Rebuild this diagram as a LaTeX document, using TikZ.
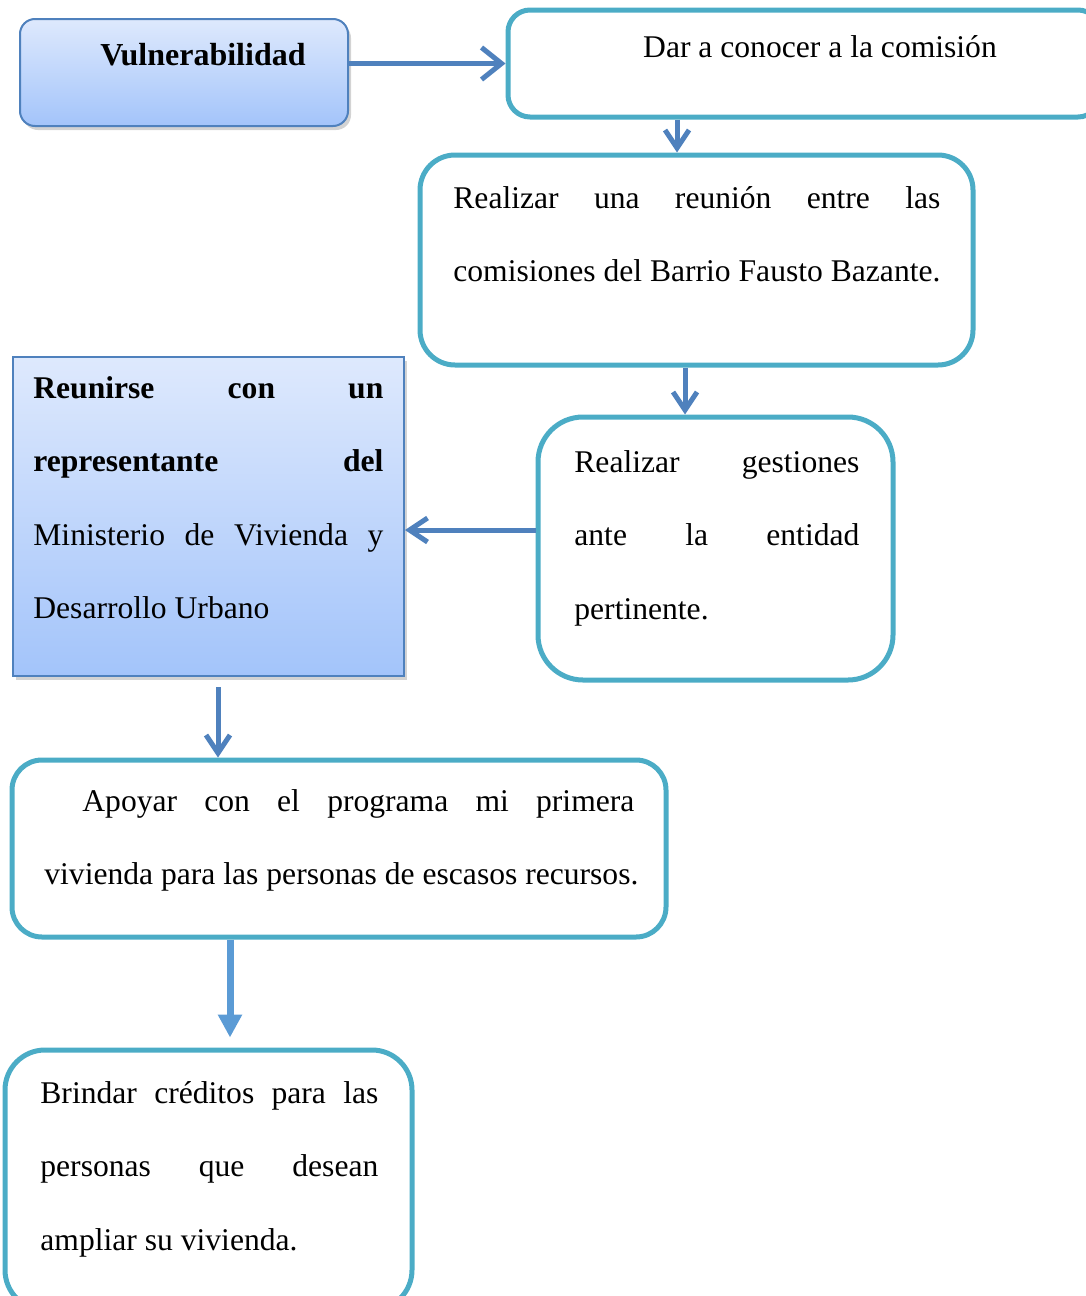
\documentclass[tikz,border=0pt]{standalone}
\usepackage{fontspec}
\setmainfont{Liberation Serif}
\usetikzlibrary{arrows.meta,shadows}
\definecolor{borde}{RGB}{75,172,198}
\definecolor{flecha}{RGB}{79,129,189}
\definecolor{flechaB}{RGB}{91,155,213}
\definecolor{azulA}{RGB}{222,233,253}
\definecolor{azulB}{RGB}{163,196,250}
\definecolor{marco}{RGB}{79,129,189}
\begin{document}
\begin{tikzpicture}[x=0.5pt, y=-0.5pt,
  caja/.style={draw=borde, line width=2.5pt, rounded corners=#1, inner sep=0pt},
  azul/.style={draw=marco, line width=1pt, top color=azulA, bottom color=azulB, inner sep=0pt,
    drop shadow={shadow xshift=1.5pt, shadow yshift=-2pt, opacity=0.35}},
  texto/.style={font=\fontsize{15.8}{36.8}\selectfont, inner sep=0pt, align=left, anchor=base west},
  flec/.style={draw=flecha, line width=2.5pt, -{Straight Barb[length=10pt,width=16pt]}},
  flecc/.style={draw=flecha, line width=2.5pt, -{Straight Barb[length=9pt,width=12pt]}}]
  \useasboundingbox (0,0) rectangle (1086,1296);
  % cajas
  \node[azul, rounded corners=7.5pt, minimum width=164pt, minimum height=53.5pt] (vul) at (184,72.5) {};
  \node[caja=11pt, minimum width=296pt, minimum height=53.5pt] (dar) at (804,63.5) {};
  \node[caja=17.5pt, minimum width=276.5pt, minimum height=105pt] (reu) at (696.5,260) {};
  \node[caja=22.5pt, minimum width=177.5pt, minimum height=131.5pt] (ges) at (715.5,548.5) {};
  \node[azul, minimum width=195.5pt, minimum height=159.5pt] (rep) at (208.5,516.5) {};
  \node[caja=15pt, minimum width=327pt, minimum height=88.5pt] (apo) at (339,848.5) {};
  \node[caja=20pt, minimum width=203.5pt, minimum height=130pt] (bri) at (208.5,1180) {};
  % textos (anclados en la ultima linea)
  \node[texto, anchor=base, font=\fontsize{16}{18}\selectfont\bfseries] (tvul) at (203,65) {Vulnerabilidad};
  \node[texto, anchor=base] (tdar) at (820,57) {Dar a conocer a la comisión};
  \node[texto] (treu) at (453,281.6) {\makebox[243.5pt][s]{Realizar una reunión entre las}\\comisiones del Barrio Fausto Bazante.};
  \node[texto] (tges) at (574,619.2) {\makebox[142.5pt][s]{Realizar gestiones}\\\makebox[142.5pt][s]{ante la entidad}\\pertinente.};
  \node[texto] (trep) at (33,618.8) {\makebox[175pt][s]{\bfseries Reunirse con un}\\\makebox[175pt][s]{\bfseries representante del}\\\makebox[175pt][s]{Ministerio de Vivienda y}\\Desarrollo Urbano};
  \node[texto] (tapo) at (44,884.6) {\hspace*{19pt}\makebox[276pt][s]{Apoyar con el programa mi primera}\\vivienda para las personas de escasos recursos.};
  \node[texto] (tbri) at (40,1250.2) {\makebox[169pt][s]{Brindar créditos para las}\\\makebox[169pt][s]{personas que desean}\\ampliar su vivienda.};
  % flechas
  \coordinate (c2) at ([xshift=-9.75pt]reu.north);
  \coordinate (c3) at ([xshift=-15.25pt]ges.north);
  \coordinate (c4) at ([yshift=9.25pt]ges.west);
  \coordinate (c5) at ([xshift=4.75pt]rep.south);
  \coordinate (c6) at ([xshift=-54.5pt]apo.south);
  \draw[flec] (vul.east |- dar.west) -- (dar.west);
  \draw[flecc] (c2 |- dar.south) -- (c2);
  \draw[flecc] (c3 |- reu.south) -- (c3);
  \draw[flecc] (c4) -- (c4 -| rep.east);
  \draw[flecc, shorten <=5pt] (c5) -- (c5 |- apo.north);
  \draw[draw=flechaB, line width=3.5pt, -{Triangle[length=11.5pt,width=11.5pt]}, shorten >=5pt] (c6) -- (c6 |- bri.north);
\end{tikzpicture}
\end{document}
